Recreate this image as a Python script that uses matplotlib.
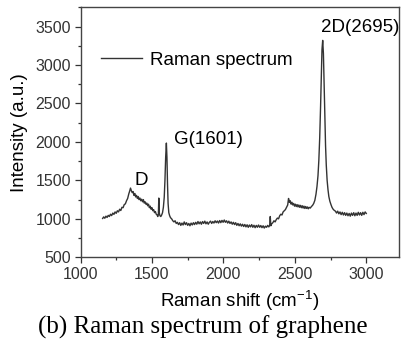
import numpy as np
import matplotlib
matplotlib.use("Agg")
import matplotlib.pyplot as plt
from matplotlib.ticker import MultipleLocator

plt.rcParams['font.family'] = ['Liberation Sans', 'DejaVu Sans']
plt.rcParams['mathtext.default'] = 'regular'

# Raman shift (cm-1) and intensity
shift = [1155, 1162, 1170, 1178, 1186, 1194, 1202, 1210, 1218, 1226, 1234, 1242, 1250, 1258,
         1266, 1274, 1282, 1290, 1298, 1306, 1314, 1322, 1330, 1338, 1344, 1350, 1356, 1362,
         1368, 1374, 1380, 1386, 1392, 1398, 1404, 1410, 1416, 1422, 1428, 1434, 1440, 1446,
         1452, 1458, 1464, 1470, 1476, 1482, 1488, 1494, 1500, 1506, 1512, 1518, 1524, 1530,
         1536, 1541, 1545, 1548, 1551, 1556, 1562, 1568, 1574, 1580, 1586, 1591, 1596, 1601,
         1605, 1609, 1613, 1618, 1624, 1630, 1638, 1646, 1654, 1662, 1670, 1678, 1686, 1694,
         1702, 1710, 1718, 1726, 1734, 1742, 1750, 1758, 1766, 1774, 1782, 1790, 1798, 1806,
         1814, 1822, 1830, 1838, 1846, 1854, 1862, 1870, 1878, 1886, 1894, 1902, 1910, 1918,
         1926, 1934, 1942, 1950, 1958, 1966, 1974, 1982, 1990, 1998, 2006, 2014, 2022, 2030,
         2038, 2046, 2054, 2062, 2070, 2078, 2086, 2094, 2102, 2110, 2118, 2126, 2134, 2142,
         2150, 2158, 2166, 2174, 2182, 2190, 2198, 2206, 2214, 2222, 2230, 2238, 2246, 2254,
         2262, 2270, 2278, 2286, 2294, 2302, 2310, 2318, 2324, 2328, 2332, 2338, 2346, 2354,
         2362, 2370, 2378, 2386, 2394, 2402, 2410, 2418, 2426, 2434, 2442, 2450, 2456, 2462,
         2468, 2474, 2480, 2486, 2492, 2498, 2504, 2510, 2516, 2522, 2528, 2534, 2540, 2546,
         2552, 2558, 2564, 2570, 2576, 2582, 2588, 2594, 2600, 2608, 2616, 2624, 2632, 2640,
         2648, 2655, 2662, 2668, 2674, 2680, 2685, 2690, 2695, 2700, 2705, 2710, 2715, 2720,
         2726, 2732, 2738, 2745, 2752, 2760, 2768, 2776, 2784, 2792, 2800, 2808, 2816, 2824,
         2832, 2840, 2848, 2856, 2864, 2872, 2880, 2888, 2896, 2904, 2912, 2920, 2928, 2936,
         2944, 2952, 2960, 2968, 2976, 2984, 2992, 3000]
intensity = [1005, 1025, 1008, 1035, 1018, 1045, 1030, 1060, 1042, 1075, 1058, 1090, 1072, 1105,
             1090, 1125, 1108, 1150, 1145, 1185, 1195, 1235, 1265, 1325, 1360, 1400, 1365, 1340,
             1355, 1305, 1330, 1285, 1305, 1265, 1290, 1250, 1270, 1235, 1255, 1222, 1250, 1205,
             1222, 1190, 1205, 1170, 1190, 1145, 1165, 1125, 1145, 1105, 1120, 1080, 1095, 1060,
             1050, 1030, 1060, 1270, 1080, 1040, 1030, 1050, 1080, 1150, 1280, 1500, 1800, 1985,
             1800, 1450, 1200, 1080, 1040, 1015, 1000, 975, 960, 975, 940, 955, 925, 950,
             915, 945, 920, 960, 925, 950, 915, 940, 910, 945, 920, 950, 925, 955,
             930, 965, 935, 960, 930, 965, 940, 970, 935, 960, 930, 955, 970, 940,
             965, 945, 975, 950, 972, 945, 978, 950, 980, 955, 985, 955, 975, 945,
             970, 940, 960, 930, 955, 925, 950, 915, 940, 910, 935, 905, 930, 900,
             927, 895, 923, 890, 920, 895, 925, 890, 917, 885, 915, 890, 920, 890,
             913, 885, 910, 880, 905, 890, 915, 895, 915, 1030, 910, 935, 950, 975,
             960, 990, 1010, 1000, 1040, 1060, 1050, 1090, 1105, 1120, 1150, 1180, 1265, 1215,
             1235, 1190, 1215, 1180, 1200, 1165, 1190, 1160, 1185, 1155, 1180, 1150, 1175, 1145,
             1170, 1140, 1165, 1135, 1160, 1135, 1155, 1130, 1150, 1140, 1160, 1175, 1200, 1240,
             1320, 1420, 1560, 1760, 2050, 2450, 2850, 3200, 3320, 3150, 2750, 2300, 1950, 1700,
             1500, 1380, 1290, 1230, 1190, 1150, 1125, 1110, 1100, 1075, 1100, 1065, 1090, 1055,
             1085, 1050, 1080, 1045, 1075, 1040, 1070, 1035, 1075, 1045, 1080, 1040, 1075, 1045,
             1085, 1050, 1080, 1045, 1085, 1055, 1090, 1070]

fig = plt.figure(figsize=(4.01, 3.45), dpi=100)
ax = fig.add_axes([80.5 / 401, 1 - 257.3 / 345, (399 - 80.5) / 401, 250 / 345])

ax.plot(shift, intensity, color='#333333', lw=1.0, label='Raman spectrum')

ax.set_xlim(1000, 3229)
ax.set_ylim(500, 3750)
ax.xaxis.set_major_locator(MultipleLocator(500))
ax.xaxis.set_minor_locator(MultipleLocator(250))
ax.yaxis.set_major_locator(MultipleLocator(500))
ax.yaxis.set_minor_locator(MultipleLocator(250))
ax.tick_params(which='both', direction='out', colors='#333333', labelsize=11.5, width=0.9)
ax.tick_params(which='major', length=4, pad=3)
ax.tick_params(which='minor', length=2.5)
for s in ax.spines.values():
    s.set_color('#444444')
    s.set_linewidth(1.0)

ax.set_xlabel('Raman shift (cm$^{-1}$)', fontsize=13.5, labelpad=5)
ax.set_ylabel('Intensity (a.u.)', fontsize=13.5, labelpad=5)

# peak labels
ax.text(1423, 1492, 'D', fontsize=13.5, ha='center', va='center')
ax.text(1892, 2025, 'G(1601)', fontsize=13.5, ha='center', va='center')
ax.text(2956, 3488, '2D(2695)', fontsize=13.5, ha='center', va='center')

ax.legend(loc='center left', bbox_to_anchor=(0.064, 0.789), frameon=False,
          fontsize=13.5, handlelength=2.2, handletextpad=0.4, borderpad=0, borderaxespad=0)

fig.text(0.506, 1 - 327 / 345, '(b) Raman spectrum of graphene', fontsize=18,
         family='Liberation Serif', ha='center', va='center')

fig.savefig('out.png', dpi=100)
